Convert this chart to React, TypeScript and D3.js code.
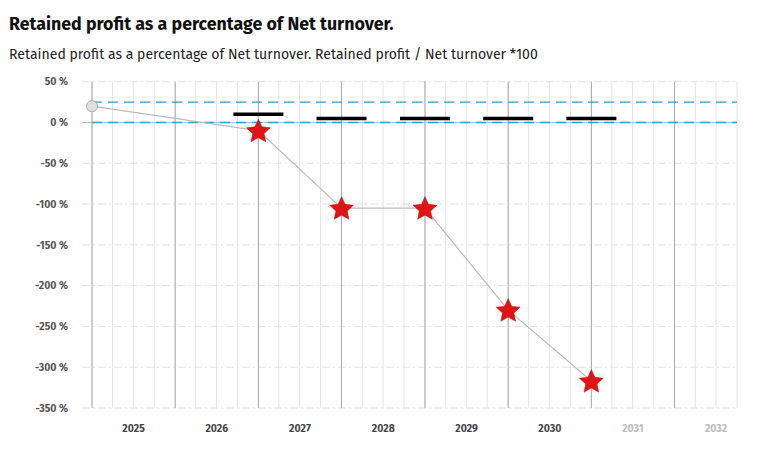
import * as d3 from "d3";

const title = "Retained profit as a percentage of Net turnover.";
const subtitle =
  "Retained profit as a percentage of Net turnover. Retained profit / Net turnover *100";

// period end dates (year-end) and retained profit %
const periodEnds = ["2025-01-01", "2027-01-01", "2028-01-01", "2029-01-01", "2030-01-01", "2031-01-01"];
const profitPct = [20, -10, -105, -105, -230, -317];
// targets shown as black bars at forecast periods
const targetEnds = ["2027-01-01", "2028-01-01", "2029-01-01", "2030-01-01", "2031-01-01"];
const targetPct = [10, 5, 5, 5, 5];
const refLines = [25, 0];
const yTicks = [50, 0, -50, -100, -150, -200, -250, -300, -350];
const yearLabels = [2025, 2026, 2027, 2028, 2029, 2030, 2031, 2032];
const mutedYears = [2031, 2032];

const W = 757;
const H = 449;
const font = "'Fira Sans', Roboto, 'Noto Sans', sans-serif";

// fat five-point star, outer radius R
const starPath = (R: number) => {
  const pts: [number, number][] = d3.range(10).map((i) => {
    const a = (i * Math.PI) / 5;
    const r = i % 2 === 0 ? R : R * 0.48;
    return [a, r];
  });
  return d3.lineRadial().curve(d3.curveLinearClosed)(pts) || "";
};

const App = () => {
  const x = d3
    .scaleTime()
    .domain([new Date("2025-01-01"), new Date("2032-10-01")])
    .range([92, 737]);
  const y = d3.scaleLinear().domain([50, -350]).range([81.7, 408]);

  const quarters = d3.timeMonth.every(3)!.range(new Date("2025-01-01"), new Date("2032-10-02"));
  const years = d3.timeYear.range(new Date("2025-01-01"), new Date("2032-10-02"));

  const pts = periodEnds.map((d, i) => [x(new Date(d)), y(profitPct[i])] as [number, number]);
  const line = d3.line();
  const star = starPath(12.5);

  return (
    <svg
      width={W}
      height={H}
      style={{ position: "absolute", left: 0, top: 0, background: "#fff" }}
      fontFamily={font}
    >
      <text x={9} y={30} fontSize={17.8} fontWeight={700} fill="#111">
        {title}
      </text>
      <text x={9} y={59} fontSize={14.05} fill="#222">
        {subtitle}
      </text>

      {/* quarter gridlines */}
      {quarters.map((q, i) => (
        <line
          key={"q" + i}
          x1={x(q)}
          x2={x(q)}
          y1={y(50)}
          y2={y(-350)}
          stroke="#e4e4e4"
          strokeWidth={1}
        />
      ))}
      {/* horizontal gridlines */}
      {yTicks.map((t) => (
        <line
          key={"h" + t}
          x1={82}
          x2={737}
          y1={y(t)}
          y2={y(t)}
          stroke={t === 0 ? "#bbb" : "#e2e2e2"}
          strokeDasharray={t === 0 ? undefined : "8,3,2,3"}
          strokeWidth={1}
        />
      ))}
      {/* year gridlines */}
      {years.map((yr, i) => (
        <line
          key={"y" + i}
          x1={x(yr)}
          x2={x(yr)}
          y1={y(50)}
          y2={y(-350)}
          stroke="#a8a8a8"
          strokeWidth={1}
        />
      ))}

      {refLines.map((r) => (
        <line
          key={"r" + r}
          x1={92}
          x2={737}
          y1={y(r)}
          y2={y(r)}
          stroke="#2b9ccf"
          strokeWidth={1.3}
          strokeDasharray="10,6"
        />
      ))}

      {yTicks.map((t) => (
        <text
          key={"yl" + t}
          x={68}
          y={y(t)}
          dy="0.35em"
          textAnchor="end"
          fontSize={10.5}
          fontWeight={700}
          fill="#555"
        >
          {t} %
        </text>
      ))}

      {yearLabels.map((yr) => {
        const cx = (x(new Date(`${yr}-01-01`)) + x(new Date(`${yr + 1}-01-01`))) / 2;
        return (
          <text
            key={"xl" + yr}
            x={yr === 2032 ? 716 : cx}
            y={432}
            textAnchor="middle"
            fontSize={10.5}
            fontWeight={700}
            fill={mutedYears.includes(yr) ? "#bbb" : "#444"}
          >
            {yr}
          </text>
        );
      })}

      {targetEnds.map((d, i) => {
        const cx = x(new Date(d));
        return (
          <line
            key={"t" + i}
            x1={cx - 25}
            x2={cx + 25}
            y1={y(targetPct[i])}
            y2={y(targetPct[i])}
            stroke="#000"
            strokeWidth={3.5}
          />
        );
      })}

      <path d={line(pts) || ""} fill="none" stroke="#bbb" strokeWidth={1.2} />

      <circle cx={pts[0][0]} cy={pts[0][1]} r={5.5} fill="#e0e0e0" stroke="#aaa" strokeWidth={1} />
      {pts.slice(1).map((p, i) => (
        <path
          key={"s" + i}
          d={star}
          transform={`translate(${p[0]},${p[1] + 1})`}
          fill="#e01414"
          stroke="#c40f0f"
          strokeWidth={0.5}
        />
      ))}
    </svg>
  );
};

export default App;
